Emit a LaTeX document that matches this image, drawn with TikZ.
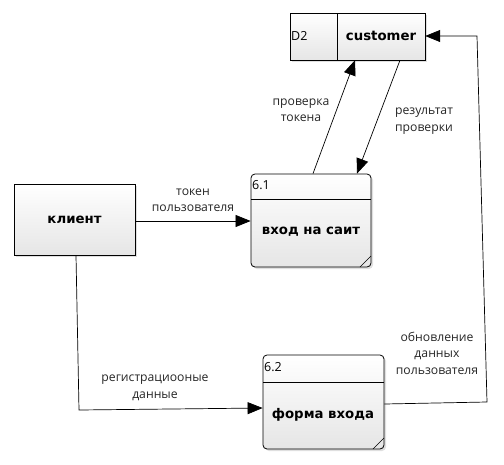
\documentclass[tikz,border=0pt]{standalone}
\usepackage{fontspec}
\setmainfont{Open Sans}
\newfontfamily\titlefont{DejaVu Sans}
\usetikzlibrary{arrows.meta,shadows}
\begin{document}
\begin{tikzpicture}[x=1pt,y=-1pt,
  boxfill/.style={top color=white,bottom color=black!10,draw=black,line width=0.8pt,
    drop shadow={opacity=0.25,shadow xshift=2pt,shadow yshift=-2pt}},
  procbox/.style={boxfill,rounded corners=4pt},
  entbox/.style={boxfill},
  lbl/.style={font=\fontsize{12.2}{16.5}\selectfont,align=center,text=black!85},
  bold/.style={font=\titlefont\fontsize{13.3}{15}\selectfont\bfseries},
  num/.style={font=\fontsize{12.5}{14}\selectfont,anchor=west,inner sep=1pt},
  flow/.style={draw=black,line width=0.7pt,-{Triangle[length=15pt,width=12pt]}},
  plain/.style={draw=black,line width=0.7pt}]
\useasboundingbox (0,0) rectangle (504,464);
% entity
\node[entbox,minimum width=121pt,minimum height=71pt,inner sep=0pt] (client) at (74.5,219.5) {};
\node[bold] (clientT) at (client.center) {клиент};
% data store
\path[entbox] (290,13) rectangle (425,60);
\draw[line width=0.8pt] (337,13) -- (337,60);
\node[inner sep=0pt,minimum width=135pt,minimum height=47pt] (store) at (357.5,36.5) {};
\node[num] (storeID) at (290,36) {D2};
\node[bold] (storeT) at (381,36) {customer};
% process 6.1
\node[procbox,minimum width=120pt,minimum height=93pt,inner sep=0pt] (p1) at (311,220.5) {};
\draw[line width=0.7pt] (251,199) -- (371,199);
\draw[line width=0.5pt] (360,267) -- (371,256);
\node[num] (p1id) at (251,185) {6.1};
\node[bold] (p1T) at (311,232) {вход на саит};
% process 6.2
\node[procbox,minimum width=121pt,minimum height=94pt,inner sep=0pt] (p2) at (323.5,402) {};
\draw[line width=0.7pt] (263,382) -- (384,382);
\draw[line width=0.5pt] (373,449) -- (384,438);
\node[num] (p2id) at (263,367) {6.2};
\node[bold] (p2T) at (323,415) {форма входа};
% connectors
\coordinate (c1) at (79,410);
\coordinate (c2) at (487,402);
\coordinate (c3) at (477,36);
\draw[flow] (client.east |- 0,221) -- (p1.west |- 0,221);
\draw[flow] (p1.north -| 313,0) -- (store.south -| 355,0);
\draw[flow] (store.south -| 400,0) -- (p1.north -| 357,0);
\draw[flow] (client.south -| 76,0) -- (c1) -- (p2.west |- 0,408);
\draw[flow] (p2.east |- 0,404) -- (c2) -- (c3) -- (store.east |- 0,36);
% labels
\node[lbl] (l1) at (193,200) {токен\\пользователя};
\node[lbl] (l2) at (301,110) {проверка\\токена};
\node[lbl] (l3) at (424,121) {результат\\проверки};
\node[lbl] (l4) at (155,388) {регистрациооные\\данные};
\node[lbl] (l5) at (437,353) {обновление\\данных\\пользователя};
\end{tikzpicture}
\end{document}
